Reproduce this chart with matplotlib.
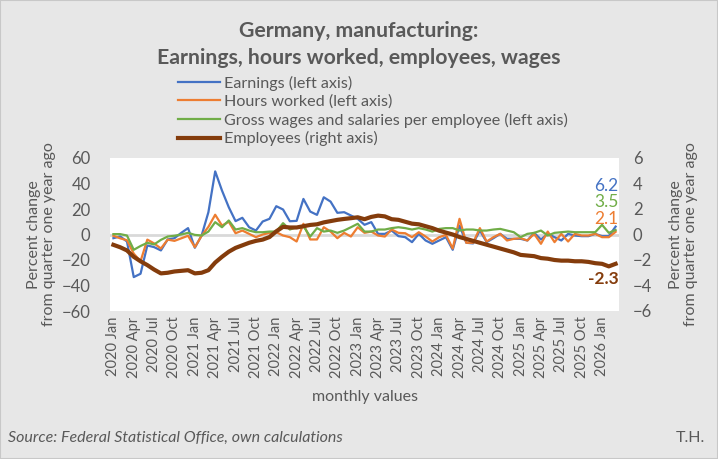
import numpy as np
import matplotlib
matplotlib.use("Agg")
import matplotlib.pyplot as plt
from matplotlib.patches import Rectangle

plt.rcParams['font.family'] = ['Lato', 'DejaVu Sans']

# months 2020 Jan .. 2026 Mar
years = [2020 + i // 12 for i in range(75)]
month_names = ["Jan", "Feb", "Mar", "Apr", "May", "Jun",
               "Jul", "Aug", "Sep", "Oct", "Nov", "Dec"]
months = [f"{years[i]} {month_names[i % 12]}" for i in range(75)]

# percent change, left axis
earnings = [-2.9, -1.5, -5.5, -33.4, -30.8, -8.6, -9.9, -12.5, -3.9, -2.9,
            1.3, 5.0, -10.4, -0.8, 17.5, 49.5, 34.5, 21.4, 10.5, 13.1,
            5.7, 3.1, 10.2, 12.3, 22.2, 19.6, 10.4, 10.7, 27.9, 18.0,
            15.4, 29.2, 25.8, 17.0, 17.5, 14.9, 12.3, 7.6, 9.7, 0.5,
            0.5, 3.1, -1.3, -2.1, -6.0, 0.5, -4.7, -7.3, -4.7, -2.1,
            -12.0, 7.0, -6.5, -7.0, 3.1, -6.0, -2.9, 0.5, -3.4, -3.4,
            -3.4, -4.7, 1.3, -3.9, 0.5, -2.1, -4.7, 0.5, -0.8, -1.3,
            -1.3, 0.5, -1.3, -1.3, 6.2]
hours = [-1.0, -3.0, -4.5, -15.0, -21.0, -4.0, -7.0, -11.0, -4.0, -5.0,
         -3.0, -1.0, -10.0, -1.0, 6.0, 15.5, 7.0, 10.0, 1.0, 3.1,
         0.5, -2.1, 0.0, 1.3, 1.8, -0.8, -2.1, -5.5, 8.4, -3.9,
         -3.9, 5.7, 2.3, -2.9, 1.3, -1.6, 5.7, 1.3, 2.3, -0.8,
         -1.6, 3.9, 1.3, 1.0, -2.1, 1.8, -1.6, -5.5, -2.1, -0.3,
         -11.0, 12.3, -6.5, -6.5, 5.0, -5.5, -2.1, 0.5, -4.7, -3.4,
         -2.9, -4.7, 0.5, -7.3, 2.3, -6.0, 0.5, -5.5, 0.5, -0.8,
         -0.8, 0.5, -2.1, -2.1, 2.1]
wages = [0.3, 0.3, -0.8, -12.0, -9.0, -6.5, -7.8, -4.2, -1.6, -1.0,
         0.0, 1.3, -0.3, -0.8, 2.3, 9.7, 5.7, 11.0, 3.9, 5.0,
         3.1, 1.8, 1.8, 2.3, 2.3, 8.9, 3.9, 5.7, 6.5, -1.6,
         5.0, 2.3, 3.1, 1.3, 3.1, 5.7, 8.4, 2.3, 2.3, 3.9,
         3.9, 5.0, 5.7, 5.0, 3.9, 5.0, 3.9, 2.3, 4.4, 5.0,
         5.0, 3.1, 3.9, 3.9, 3.1, 3.1, 3.9, 4.4, 3.1, 1.8,
         -2.1, 0.5, 1.3, 3.1, -0.8, 1.3, 1.8, 2.3, 1.8, 1.8,
         1.8, 1.8, 7.6, 1.3, 3.5]
# percent change, right axis
employees = [-0.81, -1.0, -1.25, -1.75, -2.1, -2.4, -2.75, -3.05, -3.0, -2.9,
             -2.85, -2.8, -3.05, -3.0, -2.8, -2.2, -1.75, -1.35, -1.05, -0.85,
             -0.65, -0.5, -0.4, -0.2, 0.25, 0.6, 0.55, 0.55, 0.65, 0.75,
             0.8, 0.95, 1.05, 1.15, 1.22, 1.28, 1.35, 1.2, 1.38, 1.48,
             1.42, 1.2, 1.15, 1.0, 0.85, 0.8, 0.65, 0.5, 0.3, 0.15,
             0.0, -0.2, -0.35, -0.5, -0.65, -0.8, -0.95, -1.1, -1.25, -1.4,
             -1.6, -1.65, -1.7, -1.85, -1.9, -2.0, -2.05, -2.05, -2.1, -2.1,
             -2.15, -2.25, -2.3, -2.5, -2.3]

left_ticks = [-60, -40, -20, 0, 20, 40, 60]
right_ticks = [-6, -4, -2, 0, 2, 4, 6]

grey = "#595959"
c_earn = "#4472C4"
c_hours = "#ED7D31"
c_wages = "#70AD47"
c_emp = "#843C0C"

fig = plt.figure(figsize=(7.18, 4.59), dpi=100)
fig.patch.set_facecolor("#E7E7E7")
fig.patches.append(Rectangle((0, 0), 1, 1, transform=fig.transFigure,
                             fill=False, edgecolor="#C8C8C8", lw=1.5))

ax = fig.add_axes([110 / 718, 1 - 311 / 459, 509 / 718, 153 / 459])
ax.set_facecolor("white")
ax2 = ax.twinx()

x = np.arange(len(months))
ax.axhline(0, color="#D9D9D9", lw=2, zorder=1)
l1, = ax.plot(x, earnings, color=c_earn, lw=1.6, label="Earnings (left axis)", zorder=3)
l2, = ax.plot(x, hours, color=c_hours, lw=1.6, label="Hours worked (left axis)", zorder=3)
l3, = ax.plot(x, wages, color=c_wages, lw=1.6,
              label="Gross wages and salaries per employee (left axis)", zorder=3)
l4, = ax2.plot(x, employees, color=c_emp, lw=3, label="Employees (right axis)")

ax.set_xlim(-0.5, len(months) - 0.5)
ax.set_ylim(-60, 60)
ax2.set_ylim(-6, 6)
ax.set_yticks(left_ticks)
ax2.set_yticks(right_ticks)
ax.set_xticks(x[::3])
ax.set_xticklabels(months[::3], rotation=90)

for a in (ax, ax2):
    for s in a.spines.values():
        s.set_visible(False)
    a.tick_params(length=0, colors=grey, labelsize=12)
ax.tick_params(axis="x", labelsize=10.5, pad=4)
ax.tick_params(axis="y", pad=14)
ax2.tick_params(axis="y", pad=10)

ax.set_ylabel("Percent change\nfrom quarter one year ago", color=grey, fontsize=11.5,
              linespacing=1.1)
ax2.set_ylabel("Percent change\nfrom quarter one year ago", color=grey, fontsize=11.5,
               linespacing=1.1, rotation=90, labelpad=12)
ax.set_xlabel("monthly values", color=grey, fontsize=11.5, labelpad=8)

# end labels
last = x[-1]
ax.annotate(f"{earnings[-1]:.1f}", (last, earnings[-1]), xytext=(3, 41),
            textcoords="offset pixels", ha="right", va="center", color=c_earn, fontsize=12.5)
ax.annotate(f"{wages[-1]:.1f}", (last, wages[-1]), xytext=(3, 28),
            textcoords="offset pixels", ha="right", va="center", color=c_wages, fontsize=12.5)
ax.annotate(f"{hours[-1]:.1f}", (last, hours[-1]), xytext=(3, 13),
            textcoords="offset pixels", ha="right", va="center", color=c_hours, fontsize=12.5)
ax2.annotate(f"{employees[-1]:.1f}", (last, employees[-1]), xytext=(3, -15),
             textcoords="offset pixels", ha="right", va="center", color=c_emp,
             fontsize=12.5, fontweight="bold")

fig.text(0.5, 1 - 31 / 459, "Germany, manufacturing:", ha="center", va="center",
         fontsize=15.3, fontweight="bold", color=grey)
fig.text(0.5, 1 - 58 / 459, "Earnings, hours worked, employees, wages", ha="center",
         va="center", fontsize=15.3, fontweight="bold", color=grey)

leg = fig.legend(handles=[l1, l2, l3, l4], loc="upper left",
                 bbox_to_anchor=(178 / 718, 1 - 76 / 459), frameon=False,
                 fontsize=11.6, handlelength=2.6, handletextpad=0.25,
                 labelspacing=0.22, borderaxespad=0, borderpad=0)
for t in leg.get_texts():
    t.set_color(grey)

fig.text(8 / 718, 1 - 438 / 459, "Source: Federal Statistical Office, own calculations",
         ha="left", va="center", fontsize=11.5, style="italic", color=grey)
fig.text(705 / 718, 1 - 438 / 459, "T.H.", ha="right", va="center", fontsize=11.5,
         color=grey)

fig.savefig("out.png", dpi=100, facecolor=fig.get_facecolor())
